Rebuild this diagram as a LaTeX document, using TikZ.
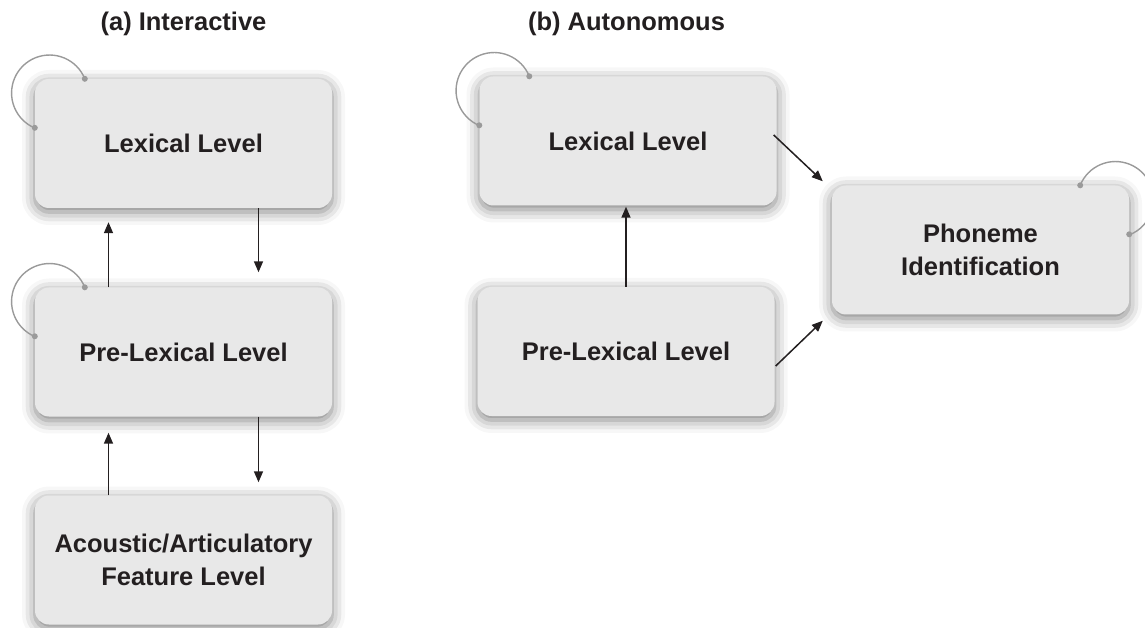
\documentclass[tikz,border=0pt]{standalone}
\usepackage{fontspec}
\setmainfont{Liberation Sans}
\usetikzlibrary{arrows.meta,shadows.blur}
\definecolor{boxgray}{HTML}{E8E8E8}
\definecolor{loopgray}{HTML}{9A9A9A}
\definecolor{ink}{HTML}{231F20}
\tikzset{
  level/.style={rectangle, rounded corners=14pt, fill=boxgray,
    minimum width=297pt, minimum height=129pt, align=center, text=ink,
    font=\bfseries\fontsize{25.5}{33}\selectfont,
    blur shadow={shadow xshift=0pt, shadow yshift=-4pt,
      shadow blur radius=13pt, shadow opacity=50}},
  heading/.style={text=ink, font=\bfseries\fontsize{25.5}{30}\selectfont},
  arr/.style={-{Triangle[length=11pt,width=9pt]}, line width=1.5pt, draw=ink},
  selfloop/.style={draw=loopgray, line width=1.4pt},
}
\begin{document}
\begin{tikzpicture}[x=1pt,y=1pt]
  \useasboundingbox (0,0) rectangle (1145,627);
  \clip (0,0) rectangle (1145,627);
  \node[heading] (titleA) at (183.5,603) {(a) Interactive};
  \node[heading] (titleB) at (626.5,603) {(b) Autonomous};
  \node[level] (lexA)  at (183.5,483.5) {Lexical Level};
  \node[level] (plexA) at (183.5,275)   {Pre-Lexical Level};
  \node[level] (acoA)  at (183.5,67)    {Acoustic/Articulatory\\Feature Level};
  \node[level] (lexB)  at (628,486)     {Lexical Level};
  \node[level] (plexB) at (626,275.5)   {Pre-Lexical Level};
  \node[level] (phon)  at (980.5,377)   {Phoneme\\Identification};
  \draw[arr, shorten >=14pt] ([xshift=-75pt]plexA.north) -- ([xshift=-75pt]lexA.south);
  \draw[arr, shorten >=15pt] ([xshift=75pt]lexA.south) -- ([xshift=75pt]plexA.north);
  \draw[arr, shorten >=16pt] ([xshift=-75pt]acoA.north) -- ([xshift=-75pt]plexA.south);
  \draw[arr, shorten >=13pt] ([xshift=75pt]plexA.south) -- ([xshift=75pt]acoA.north);
  \draw[arr, shorten >=1pt] (plexB.north) -- (plexB.north |- lexB.south);
  \draw[arr] ([xshift=-3pt,yshift=6pt]lexB.east) -- ([xshift=-9pt,yshift=4pt]phon.north west);
  \draw[arr] ([xshift=1pt,yshift=-14.5pt]plexB.east) -- ([xshift=-9pt,yshift=-6pt]phon.south west);
  \foreach \n in {lexA,plexA,lexB}{
    \draw[selfloop] ([xshift=50pt]\n.north west) arc[start angle=22, end angle=247, radius=38pt];
    \fill[loopgray] ([xshift=50pt]\n.north west) circle (3pt) ([yshift=-49pt]\n.north west) circle (3pt);
  }
  \draw[selfloop] ([xshift=-49pt]phon.north east) arc[start angle=158, end angle=-67, radius=38pt];
  \fill[loopgray] ([xshift=-49pt]phon.north east) circle (3pt) ([yshift=-49pt]phon.north east) circle (3pt);
\end{tikzpicture}
\end{document}
